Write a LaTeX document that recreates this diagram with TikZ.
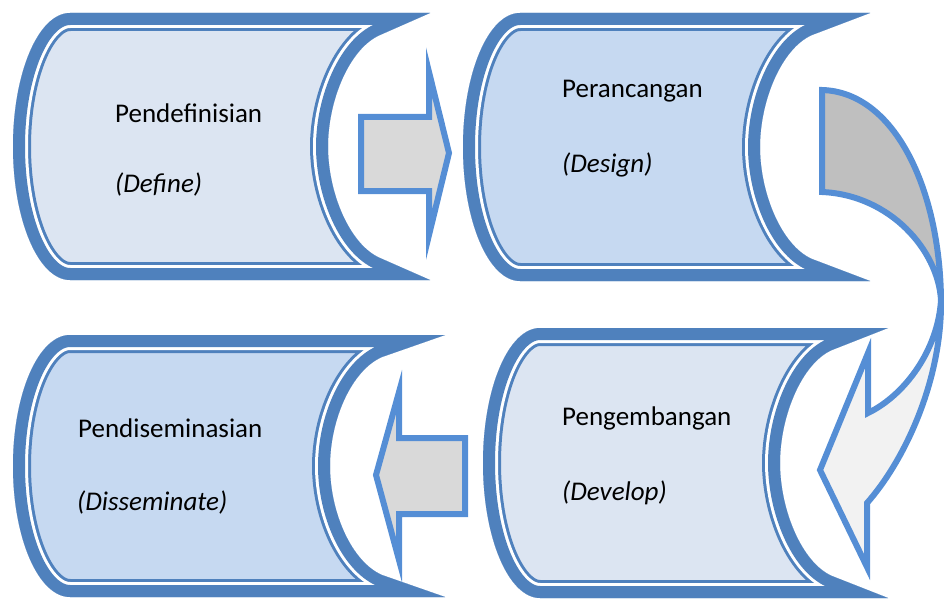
\documentclass[tikz,border=0pt]{standalone}
\usepackage{fontspec}
\setmainfont{Carlito}
\usetikzlibrary{calc}

\definecolor{stageblue}{RGB}{79,129,189}
\definecolor{stagelight}{RGB}{220,229,242}
\definecolor{stagemid}{RGB}{198,217,241}
\definecolor{arrowblue}{RGB}{85,142,213}
\definecolor{arrowgray}{RGB}{217,217,217}
\definecolor{arrowdark}{RGB}{191,191,191}
\definecolor{arrowpale}{RGB}{242,242,242}

% outline of one stage: left, top, right tip, bottom, concave x
\newcommand{\stageshape}[5]{%
  (#1+57,#2) -- (#3,#2) -- (#5+52,#2+22)
  .. controls (#5+22,#2+35) and (#5,{(#2+#4)/2-47}) .. (#5,{(#2+#4)/2})
  .. controls (#5,{(#2+#4)/2+47}) and (#5+22,#4-35) .. (#5+52,#4-22)
  -- (#3,#4) -- (#1+57,#4)
  .. controls (#1+25.5,#4) and (#1,{(#2+#4)/2+0.5523*(#4-#2)/2}) .. (#1,{(#2+#4)/2})
  .. controls (#1,{(#2+#4)/2-0.5523*(#4-#2)/2}) and (#1+25.5,#2) .. (#1+57,#2) -- cycle}

\newcommand{\stage}[6]{%
  \begin{scope}
    \clip \stageshape{#1}{#2}{#3}{#4}{#5};
    \fill[#6] \stageshape{#1}{#2}{#3}{#4}{#5};
    \draw[stageline, line width=36pt] \stageshape{#1}{#2}{#3}{#4}{#5};
    \draw[white, line width=30pt] \stageshape{#1}{#2}{#3}{#4}{#5};
    \draw[stageline, line width=24pt] \stageshape{#1}{#2}{#3}{#4}{#5};
  \end{scope}}

\tikzset{
  stageline/.style={draw=stageblue, line join=miter},
  blockarrow/.style={draw=arrowblue, line width=6pt, line join=miter},
  stagetext/.style={anchor=base west, inner sep=0pt, font=\fontsize{27}{31}\selectfont},
  stagetextit/.style={stagetext, font=\fontsize{27}{31}\selectfont\itshape}
}

\begin{document}
\begin{tikzpicture}[x=1pt,y=-1pt]
  \useasboundingbox (0,0) rectangle (944,599);

  %% stages
  \stage{13}{13}{430}{280}{328}{stagelight}
  \stage{463}{13}{870}{281}{760}{stagemid}
  \stage{483}{328}{888}{598}{780}{stagelight}
  \stage{13}{335}{445}{597}{330}{stagemid}

  \node[stagetext] (pendef) at (115,122) {Pendefinisian};
  \node[stagetextit] (pendefEn) at (115,192) {(Define)};

  \node[stagetext] (peranc) at (562,98) {Perancangan};
  \node[stagetextit] (perancEn) at (562,172) {(Design)};

  \node[stagetext] (pengem) at (562,425) {Pengembangan};
  \node[stagetextit] (pengemEn) at (562,500) {(Develop)};

  \node[stagetext] (pendis) at (78,437) {Pendiseminasian};
  \node[stagetextit] (pendisEn) at (77,510) {(Disseminate)};

  %% straight arrows
  \draw[blockarrow, fill=arrowgray]
    (361,117) -- (429,117) -- (429,72) -- (449,153) -- (429,235) -- (429,191) -- (361,191) -- cycle;
  \draw[blockarrow, fill=arrowgray]
    (465,438) -- (399,438) -- (399,392) -- (376,475) -- (399,560) -- (399,514) -- (465,514) -- cycle;

  %% curved arrow
  \coordinate (waist) at (941,300);
  \fill[arrowdark] (822,90) .. controls (895,92) and (940,190) .. (waist)
    .. controls (938,250) and (890,195) .. (822,192) -- cycle;
  \fill[arrowpale] (waist) .. controls (942,380) and (905,460) .. (867,503)
    -- (867,567) -- (820,470) -- (868,353) -- (868,413)
    .. controls (905,395) and (938,350) .. (waist) -- cycle;
  \draw[blockarrow] (822,90) .. controls (895,92) and (940,190) .. (waist)
    .. controls (942,380) and (905,460) .. (867,503)
    -- (867,567) -- (820,470) -- (868,353) -- (868,413)
    .. controls (905,395) and (938,350) .. (waist)
    .. controls (938,250) and (890,195) .. (822,192) -- cycle;
\end{tikzpicture}
\end{document}
